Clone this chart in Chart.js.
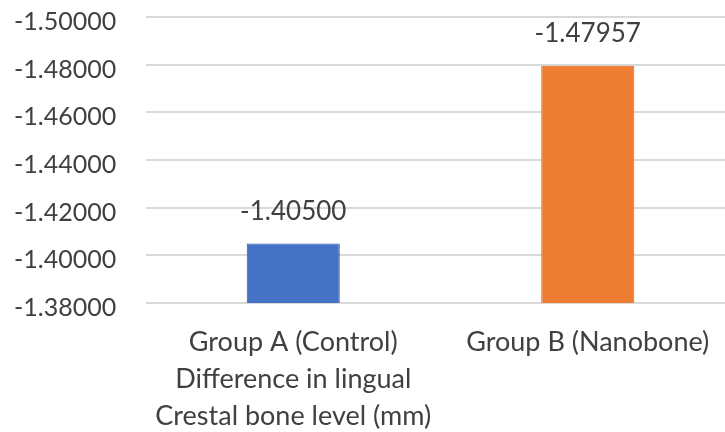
<!DOCTYPE html>
<html>
<head>
<meta charset="utf-8">
<script src="https://cdn.jsdelivr.net/npm/chart.js@4/dist/chart.umd.min.js"></script>
<style>
  html, body { margin: 0; padding: 0; overflow: hidden; background: #fff; }
  #wrap { width: 735px; height: 432px; }
</style>
</head>
<body>
<div id="wrap"><canvas id="grafica" width="735" height="432"></canvas></div>
<script>
// Datos del gráfico
const categorias = [
  ['Group A (Control)', 'Difference in lingual', 'Crestal bone level (mm)'],
  'Group B (Nanobone)'
];
const valores = [-1.40500, -1.47957];
const coloresBarra = ['#4472C4', '#ED7D31'];
const bordesBarra = ['#2F55B5', '#F0602A'];
const ejeMin = -1.50;
const ejeMax = -1.38;
const ejePaso = 0.02;

const COLOR_TEXTO = '#404040';
const FUENTE = 'Lato';

// Etiquetas de valor encima de cada barra
const etiquetasValor = {
  id: 'etiquetasValor',
  afterDatasetsDraw(chart) {
    const ctx = chart.ctx;
    const meta = chart.getDatasetMeta(0);
    ctx.save();
    ctx.font = `26px ${FUENTE}`;
    ctx.fillStyle = COLOR_TEXTO;
    ctx.textAlign = 'center';
    ctx.textBaseline = 'middle';
    meta.data.forEach((barra, i) => {
      ctx.fillText(valores[i].toFixed(5), barra.x, barra.y - 32);
    });
    ctx.restore();
  }
};

new Chart(document.getElementById('grafica').getContext('2d'), {
  type: 'bar',
  data: {
    labels: categorias,
    datasets: [{
      data: valores,
      backgroundColor: coloresBarra,
      borderColor: bordesBarra,
      borderWidth: 1,
      barPercentage: 0.316,
      categoryPercentage: 1
    }]
  },
  options: {
    responsive: false,
    animation: false,
    layout: { padding: { top: 17, left: 14, right: 0, bottom: 0 } },
    plugins: {
      legend: { display: false },
      tooltip: { enabled: false }
    },
    scales: {
      x: {
        grid: { display: false, drawTicks: false },
        border: { display: false },
        ticks: {
          color: COLOR_TEXTO,
          padding: 21,
          maxRotation: 0,
          autoSkip: false,
          font: { family: FUENTE, size: 27, lineHeight: '37px' }
        },
        afterFit(scale) { scale.height = 129; }
      },
      y: {
        reverse: true,
        min: ejeMin,
        max: ejeMax,
        grid: { color: '#d9d9d9', lineWidth: 2, drawTicks: false },
        border: { display: false },
        ticks: {
          stepSize: ejePaso,
          color: COLOR_TEXTO,
          padding: 0,
          crossAlign: 'far',
          labelOffset: 5,
          font: { family: FUENTE, size: 25 },
          callback: (v) => v.toFixed(5)
        },
        afterFit(scale) { scale.width = 132; }
      }
    }
  },
  plugins: [etiquetasValor]
});
</script>
</body>
</html>
